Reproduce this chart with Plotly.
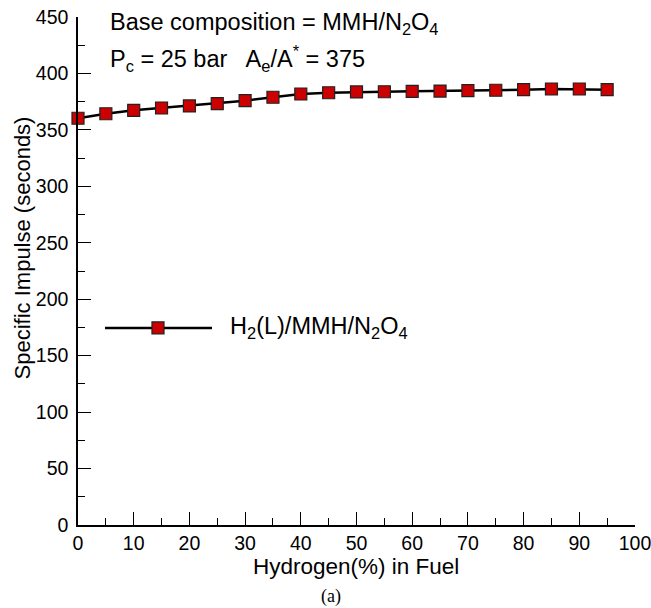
import plotly.graph_objects as go

hydrogen_pct = [0, 5, 10, 15, 20, 25, 30, 35, 40, 45, 50, 55, 60, 65, 70, 75, 80, 85, 90, 95]
isp = [360.3, 364.3, 367.3, 369.4, 371.2, 373.2, 375.9, 378.9, 381.8, 382.9,
       383.6, 383.8, 384.2, 384.4, 384.7, 385.1, 385.6, 386.2, 386.2, 385.6]
series_name = "H<sub>2</sub>(L)/MMH/N<sub>2</sub>O<sub>4</sub>"

FONT = "Liberation Sans, Arial, sans-serif"
RED = "#CC0000"

fig = go.Figure()
fig.add_trace(go.Scatter(
    x=hydrogen_pct, y=isp, mode="lines+markers", name=series_name,
    line=dict(color="black", width=2.5),
    marker=dict(symbol="square", size=12, color=RED,
                line=dict(color="#222222", width=1.2)),
    showlegend=False, cliponaxis=False,
))

# custom legend (long line sample like the reference)
ly = 0.388
fig.add_shape(type="line", xref="paper", yref="paper", x0=0.0485, x1=0.2406,
              y0=ly, y1=ly, line=dict(color="black", width=2.5))
fig.add_shape(type="rect", xref="paper", yref="paper",
              x0=0.1436 - 0.0108, x1=0.1436 + 0.0108,
              y0=ly - 0.0118, y1=ly + 0.0118,
              line=dict(color="#222222", width=1.2), fillcolor=RED)
fig.add_annotation(xref="paper", yref="paper", x=0.269, y=ly, text=series_name,
                   showarrow=False, xanchor="left", yanchor="middle",
                   font=dict(family=FONT, size=23.5, color="black"))

fig.add_annotation(xref="paper", yref="paper", x=0.0539, y=0.988,
                   text="Base composition = MMH/N<sub>2</sub>O<sub>4</sub>",
                   showarrow=False, xanchor="left", yanchor="middle",
                   font=dict(family=FONT, size=23.5, color="black"))
fig.add_annotation(xref="paper", yref="paper", x=0.0539, y=0.919,
                   text="P<sub>c</sub> = 25 bar   A<sub>e</sub>/A<sup>*</sup> = 375",
                   showarrow=False, xanchor="left", yanchor="middle",
                   font=dict(family=FONT, size=23.5, color="black"))

fig.add_annotation(xref="paper", yref="paper", x=0.499, y=-0.081,
                   text="Hydrogen(%) in Fuel", showarrow=False,
                   xanchor="center", yanchor="middle",
                   font=dict(family=FONT, size=22.5, color="black"))
fig.add_annotation(xref="paper", yref="paper", x=0.454, y=-0.1398,
                   text="(a)", showarrow=False, xanchor="center", yanchor="middle",
                   font=dict(family="Liberation Serif, Times New Roman, serif", size=18, color="black"))
fig.add_annotation(xref="paper", yref="paper", x=-0.1, y=0.545,
                   text="Specific Impulse (seconds)", showarrow=False, textangle=-90,
                   xanchor="center", yanchor="middle",
                   font=dict(family=FONT, size=22, color="black"))

axis_common = dict(
    showline=True, linecolor="black", linewidth=1.5, mirror=False, automargin=False,
    showgrid=False, zeroline=False, ticks="inside", ticklen=13, tickwidth=1.2,
    tickcolor="black", tickfont=dict(family=FONT, size=19.5, color="black"),
    ticklabeloverflow="allow",
)
fig.update_xaxes(range=[0, 100], tick0=0, dtick=10, ticklabelstandoff=0,
                 minor=dict(ticks="inside", ticklen=7, dtick=5, tickcolor="black", tickwidth=1.2),
                 **axis_common)
fig.update_yaxes(range=[0, 450], tick0=0, dtick=50, ticklabelstandoff=4,
                 minor=dict(ticks="inside", ticklen=7, dtick=25, tickcolor="black", tickwidth=1.2),
                 **axis_common)

fig.update_layout(
    width=651, height=608,
    margin=dict(l=78, r=16, t=17, b=83, autoexpand=False),
    plot_bgcolor="white", paper_bgcolor="white",
    font=dict(family=FONT, color="black"),
)
# remove the default page margin/scrollbars so the 651x608 figure fills the window exactly
fig.write_html(
    "out.html",
    config={"displayModeBar": False},
    post_script="document.documentElement.style.overflow='hidden';"
                "document.body.style.margin='0';document.body.style.overflow='hidden';",
)
